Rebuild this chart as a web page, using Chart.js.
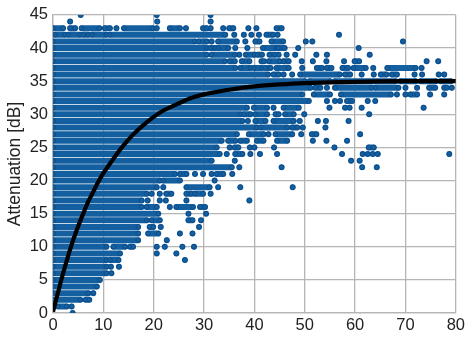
<!DOCTYPE html>
<html>
<head>
<meta charset="utf-8">
<style>
  body { margin: 0; background: #fff; }
  canvas { display: block; }
</style>
<script src="https://cdn.jsdelivr.net/npm/chart.js@4"></script>
</head>
<body>
<canvas id="myChart" width="468" height="338"></canvas>
<script>
const xTicks = [0, 10, 20, 30, 40, 50, 60, 70, 80];
const yTicks = [0, 5, 10, 15, 20, 25, 30, 35, 40, 45];

// runs of overlapping dots per attenuation row, [from, to] or [x] for a lone dot
const row45 = [[5.5], [20.6], [31.3]];
const row44 = [[3.4], [20.7], [31.3]];
const row43 = [[0, 2], [3.4, 4.4], [5.7, 9.2], [10.3, 11.3], [12.6], [14.1, 19.8], [20.6], [23.2, 25.2], [26.4], [29.8, 30.5], [31.3], [33.8], [35, 35.8], [38.8], [40.4], [44.4, 45.4]];
const row42 = [[0.4, 2.4], [3, 5.4], [6, 7], [7.7, 10.6], [11.3, 34.2], [36], [37.9], [39.4], [40.9], [42.4, 43.7], [44.6], [56.8]];
const row41 = [[0, 28.2], [28.9, 30.5], [31.5], [32.8, 36.5], [38.2], [40.2, 41], [43.4, 45.7], [50.2], [51.5], [69.5]];
const row40 = [[0, 30.5], [31.2, 32.2], [32.8, 34.8], [36.2], [38.6], [41.7, 44.4], [44.7, 46], [48.7], [60.7]];
const row39 = [[0, 30.5], [31.5, 36.1], [37], [38.3, 40], [40.6, 41.5], [43, 44.1], [44.8], [46.4], [48.1], [52.3], [54.4], [62.9]];
const row38 = [[0, 34.1], [35.1, 36.1], [37.5, 39], [41.4, 41.9], [42.9, 45], [45.8, 46.8], [49.4], [51.6], [54.3], [57.8], [59.9, 60.8], [74.2], [76.5]];
const row37 = [[0, 36.2], [37.2, 39.2], [39.9, 41.5], [42.2, 43.2], [44.4, 46.8], [49.5], [52.4, 53.4], [54.4, 55.3], [57.5, 58.6], [59.7, 62.1], [63.6], [66.4, 72], [73.2]];
const row36 = [[0, 42.7], [43.8, 44.8], [45.8], [47.5], [49.1, 56.9], [58, 59], [61.3], [63.7], [65.1, 66.2], [67.3, 68.3], [71.8], [73.3], [76.6], [77.7]];
const row35 = [[0, 50], [51, 55], [56, 68], [69, 72], [73, 76], [77, 79]];
const row34 = [[0, 51.1], [52.1, 53.1], [54.4], [56, 63.3], [64, 68.6], [70], [72.3], [74.7, 75.9], [77.7, 78.2], [79.2]];
const row33 = [[0, 49.5], [51.8, 55], [57.2, 67.1], [68.3], [70], [71, 72.3], [74.9], [77.7]];
const row32 = [[0, 50.8], [54.4], [56], [57], [58.4, 59.4], [62.5], [64]];
const row31 = [[0, 38.5], [39.9, 42.5], [43.8], [45.8, 48.8], [54.9], [58], [58.9], [61.3], [73.6]];
const row30 = [[0, 37.2], [37.9, 39.2], [40.2, 42.5], [44.2, 44.8], [46.1, 47.8], [49.9], [62.8]];
const row29 = [[0, 37.6], [38.7], [40.2, 42.2], [43.8, 47.8], [49], [52.6], [54.2], [58.7]];
const row28 = [[0, 40.5], [41.2, 46.5], [47.5, 48.5], [49.6], [54.1]];
const row27 = [[0, 36.5], [38.9, 41.8], [42.8], [44.2, 47.5], [49.3], [51.4, 52.3], [61]];
const row26 = [[0, 33.5], [34.8, 36.2], [37.2, 38.5], [40.5, 41.8], [44.5, 46.5], [51.6], [54.3], [58.4]];
const row25 = [[0, 32.5], [35.1], [36.1, 36.8], [39.1], [40], [43.9], [55.9], [62.7, 63.7]];
const row24 = [[0, 33.1], [34.5], [36.2, 37.6], [39.2], [41.1], [44.5], [57.4], [61.5], [62.5], [63.5], [64.5], [78.7]];
const row23 = [[0, 31.5], [36.1], [59.2], [60.9]];
const row22 = [[0, 35.5], [37], [45.4], [61.4], [64.3]];
const row21 = [[0, 24.2], [25.2, 26.5], [28.2], [29.8], [31.5], [32.5, 33.8], [35.6]];
const row20 = [[0, 21.2], [21.9, 25.2], [32.1]];
const row19 = [[0, 20.6], [21.9], [26.5, 31.1], [32.8], [37.2], [47.6]];
const row18 = [[0, 18.6], [19.6], [21.2], [22.5, 23.5], [26.5, 27.5], [28.2, 29.8], [31.3]];
const row17 = [[0, 17.6], [18.8], [21.2], [22.4], [26.5], [39]];
const row16 = [[0, 17.6], [18.6, 20.6], [23.2], [24.5, 27.8], [29.2, 30.2]];
const row15 = [[0, 20.9], [26.9], [30.4]];
const row14 = [[0, 18.6], [19.6, 21.2], [26.9, 27.7], [29.4]];
const row13 = [[0, 16.9], [19.2, 19.9], [21.4], [29]];
const row12 = [[0, 16.9], [18.9, 20.9], [25.2], [27.7]];
const row11 = [[0, 16.9], [22.6]];
const row10 = [[0, 10.6], [12, 14.3], [15.3, 15.9], [20.6], [22.2], [25.7], [28]];
const row9 = [[0, 13.3], [20.6], [24.5]];
const row8 = [[0, 10.6], [11.3, 13], [26.2]];
const row7 = [[0, 10.6], [11.5], [13.1]];
const row6 = [[0, 10.6], [11.6]];
const row5 = [[0, 9.3]];
const row4 = [[0, 8.7]];
const row3 = [[0, 7], [8]];
const row2 = [[0, 5.4], [6.5, 7.2]];
const row1 = [[1, 2.7], [3.7]];
const row0 = [[3.9]];

const rows = [row0, row1, row2, row3, row4, row5, row6, row7, row8, row9, row10, row11, row12, row13, row14, row15, row16, row17, row18, row19, row20, row21, row22, row23, row24, row25, row26, row27, row28, row29, row30, row31, row32, row33, row34, row35, row36, row37, row38, row39, row40, row41, row42, row43, row44, row45];

const curveX = [0, 1, 2, 3, 4, 5, 6, 7, 8, 9, 10, 12, 14, 16, 18, 20, 22, 24, 26, 28, 30, 32, 35, 40, 45, 50, 60, 70, 80];
const curveY = [0.2, 3.1, 6, 8.6, 11, 13.1, 15, 16.8, 18.3, 19.8, 21.1, 23.3, 25.3, 27, 28.4, 29.6, 30.6, 31.3, 32, 32.6, 33, 33.3, 33.7, 34.2, 34.5, 34.7, 34.9, 35, 35];

const dotPoints = [];
rows.forEach((runs, db) => {
    runs.forEach(run => {
        run.forEach(x => dotPoints.push({x: x, y: db}));
        dotPoints.push({x: null, y: null});
    });
});

const curvePoints = curveX.map((x, i) => ({x: x, y: curveY[i]}));

const ctx = document.getElementById('myChart').getContext('2d');

const myChart = new Chart(ctx, {
    type: 'scatter',
    data: {
        datasets: [
            {
                data: curvePoints,
                showLine: true,
                borderColor: '#000',
                borderWidth: 4.2,
                pointRadius: 0,
                tension: 0.3,
                clip: 0,
                order: 1
            },
            {
                data: dotPoints,
                showLine: true,
                spanGaps: false,
                borderColor: '#135f9f',
                borderWidth: 6,
                borderCapStyle: 'round',
                pointRadius: 2.3,
                pointBorderWidth: 0.8,
                pointBackgroundColor: '#14609f',
                pointBorderColor: '#0b4786',
                clip: 0,
                order: 2
            }
        ]
    },
    options: {
        responsive: false,
        animation: false,
        layout: {padding: {top: 13, right: 12, left: 0, bottom: 0}},
        plugins: {
            legend: {display: false},
            tooltip: {enabled: false}
        },
        scales: {
            x: {
                min: 0,
                max: 80,
                afterFit: scale => { scale.height = 25; },
                afterBuildTicks: scale => { scale.ticks = xTicks.map(v => ({value: v})); },
                grid: {color: '#b5b5b5', lineWidth: 1.3, drawTicks: false},
                border: {color: '#b5b5b5', width: 1.3},
                ticks: {
                    color: '#222',
                    padding: 3,
                    maxRotation: 0,
                    font: {family: '"Liberation Sans"', size: 16.5}
                }
            },
            y: {
                min: 0,
                max: 45,
                afterFit: scale => { scale.width = 53; },
                afterBuildTicks: scale => { scale.ticks = yTicks.map(v => ({value: v})); },
                grid: {color: '#b5b5b5', lineWidth: 1.3, drawTicks: false},
                border: {color: '#b5b5b5', width: 1.3},
                ticks: {
                    color: '#222',
                    padding: 5,
                    font: {family: '"Liberation Sans"', size: 16.5}
                },
                title: {
                    display: true,
                    text: 'Attenuation [dB]',
                    color: '#222',
                    padding: {top: 5, bottom: 0},
                    font: {family: '"Liberation Sans"', size: 17.5, weight: 'normal'}
                }
            }
        }
    }
});
</script>
</body>
</html>
